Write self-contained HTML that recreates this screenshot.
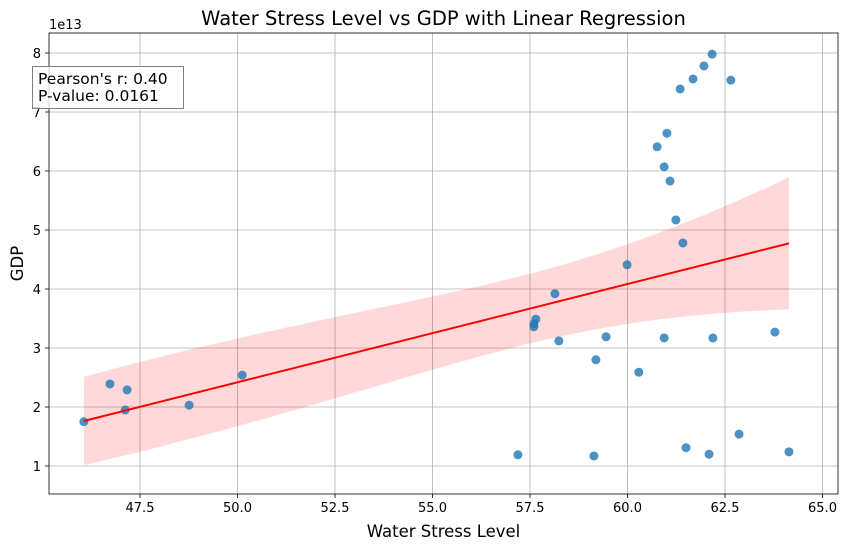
<!DOCTYPE html>
<html><head><meta charset="utf-8">
<style>
body{margin:0;background:#fff;font-family:"Liberation Sans","DejaVu Sans",sans-serif;}
svg text{font-family:"DejaVu Sans","Liberation Sans",sans-serif;}
</style></head>
<body>
<svg id="chart" width="848" height="549"></svg>
<script>
const waterStress=[46.06,46.73,47.17,47.12,48.76,50.12,57.19,57.65,57.6,57.6,58.14,58.24,59.19,59.14,59.45,59.99,60.29,60.76,61.01,60.94,61.09,60.94,61.24,61.42,61.35,61.50,61.68,61.96,62.17,62.19,62.09,62.65,62.86,63.78,64.14];
const gdp=[1.75,2.39,2.29,1.95,2.03,2.54,1.19,3.49,3.41,3.36,3.92,3.12,2.80,1.17,3.19,4.41,2.59,6.41,6.64,6.07,5.83,3.17,5.17,4.78,7.39,1.31,7.56,7.78,7.98,3.17,1.20,7.54,1.54,3.27,1.24];
const xTicks=[47.5,50.0,52.5,55.0,57.5,60.0,62.5,65.0];
const yTicks=[1,2,3,4,5,6,7,8];
const stats=["Pearson's r: 0.40","P-value: 0.0161"];

const L=49,R=838,T=33,B=494;
const X=v=>140+(v-47.5)*39;
const Y=v=>466-(v-1)*59;
const svg=document.getElementById('chart');
const NS='http://www.w3.org/2000/svg';
function mk(tag,attrs,parent){const e=document.createElementNS(NS,tag);for(const k in attrs)e.setAttribute(k,attrs[k]);(parent||svg).appendChild(e);return e;}

xTicks.forEach(t=>{const l=mk('line',{x1:X(t),x2:X(t),y1:T,y2:B,stroke:'#b0b0b0','stroke-width':0.8});

});
yTicks.forEach(t=>{const l=mk('line',{x1:L,x2:R,y1:Y(t),y2:Y(t),stroke:'#b0b0b0','stroke-width':0.8});

});

const n=waterStress.length;
const mx=waterStress.reduce((a,b)=>a+b,0)/n, my=gdp.reduce((a,b)=>a+b,0)/n;
let sxx=0,sxy=0;for(let i=0;i<n;i++){sxx+=(waterStress[i]-mx)**2;sxy+=(waterStress[i]-mx)*(gdp[i]-my);}
const slope=sxy/sxx, icpt=my-slope*mx;
let sse=0;for(let i=0;i<n;i++){sse+=(gdp[i]-(icpt+slope*waterStress[i]))**2;}
const s=Math.sqrt(sse/(n-2));
const xmin=Math.min(...waterStress), xmax=Math.max(...waterStress);
const up=[],lo=[];
for(let k=0;k<=60;k++){const x=xmin+(xmax-xmin)*k/60;const yh=icpt+slope*x;
const f=0.85+(2.2-0.85)*k/60;
const se=s*Math.sqrt(1/n+(x-mx)**2/sxx)*f;up.push([X(x),Y(yh+se)]);lo.push([X(x),Y(yh-se)]);}
const band=mk('path',{d:'M'+up.map(p=>p.join(',')).join('L')+'L'+lo.reverse().map(p=>p.join(',')).join('L')+'Z',fill:'#ff0000','fill-opacity':0.15,stroke:'none'});



for(let i=0;i<n;i++){const c=mk('circle',{cx:X(waterStress[i]),cy:Y(gdp[i]),r:4.5,fill:'#1f77b4','fill-opacity':0.8});

}

const rl=mk('line',{x1:X(xmin),y1:Y(icpt+slope*xmin),x2:X(xmax),y2:Y(icpt+slope*xmax),stroke:'#ff0000','stroke-width':2});



const fr=mk('rect',{x:L,y:T,width:R-L,height:B-T,fill:'none',stroke:'#000','stroke-width':0.8});



xTicks.forEach(t=>{mk('line',{x1:X(t),x2:X(t),y1:B,y2:B+4,stroke:'#000','stroke-width':0.8});
const tx=mk('text',{x:X(t),y:B+18,'text-anchor':'middle','font-size':13});tx.textContent=t.toFixed(1);

});
yTicks.forEach(t=>{mk('line',{x1:L-4,x2:L,y1:Y(t),y2:Y(t),stroke:'#000','stroke-width':0.8});
const tx=mk('text',{x:L-8,y:Y(t)+5,'text-anchor':'end','font-size':13});tx.textContent=t;

});
const off=mk('text',{x:L,y:29,'font-size':13});off.textContent='1e13';



const ti=mk('text',{x:(L+R)/2,y:25,'text-anchor':'middle','font-size':19.5});ti.textContent='Water Stress Level vs GDP with Linear Regression';


const xt=mk('text',{x:(L+R)/2,y:537,'text-anchor':'middle','font-size':16.5});xt.textContent='Water Stress Level';


const yt=mk('text',{x:23,y:(T+B)/2,'text-anchor':'middle','font-size':16.5,transform:`rotate(-90 23 ${(T+B)/2})`});yt.textContent='GDP';



const sb=mk('rect',{x:32.5,y:66.5,width:151,height:42,fill:'#fff','fill-opacity':0.8,stroke:'#808080','stroke-width':1});


stats.forEach((st,i)=>{const t=mk('text',{x:38,y:84+i*17,'font-size':15.5});t.textContent=st;

});
</script>
</body></html>
